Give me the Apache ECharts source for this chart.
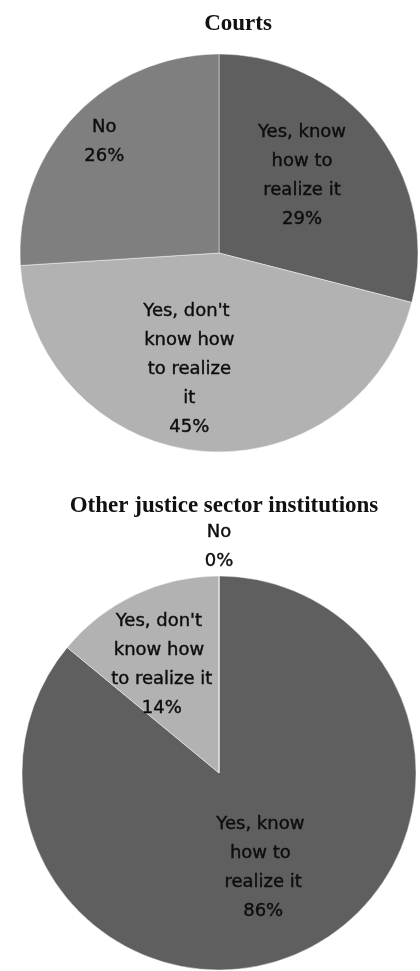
<!DOCTYPE html>
<html>
<head>
<meta charset="utf-8">
<style>
  html, body { margin: 0; padding: 0; background: #ffffff; }
  #chart { width: 420px; height: 971px; }
</style>
<script src="https://cdn.jsdelivr.net/npm/echarts@6/dist/echarts.min.js"></script>
</head>
<body>
<div id="chart"></div>
<script>
// ---- data ----
var categories = ["Yes, know how to realize it", "Yes, don't know how to realize it", "No"];
var courtsValues = [29, 45, 26];
var otherValues = [86, 14, 0];
var chartTitles = ["Courts", "Other justice sector institutions"];

// ---- styles ----
var sliceColors = ["#5f5f5f", "#b2b2b2", "#7f7f7f"];
var courtsLabelOffsets = [[2, -14], [-20, 14], [-40, -41]];
var otherLabelOffsets = [[1, 3], [-14, -16], [0, -125]];

function buildData(values, offsets) {
  return categories.map(function (name, i) {
    return {
      name: name,
      value: values[i],
      itemStyle: { color: sliceColors[i] },
      label: { offset: offsets[i] }
    };
  });
}

function labelFmt(p) {
  return p.name + '\n' + Math.round(p.percent) + '%';
}

function pieSeries(center, radius, data, wrapWidth) {
  return {
    type: 'pie',
    center: center,
    radius: [0, radius],
    startAngle: 90,
    clockwise: true,
    silent: true,
    animation: false,
    avoidLabelOverlap: false,
    itemStyle: { borderColor: 'rgba(255,255,255,0.45)', borderWidth: 1 },
    label: {
      show: true,
      position: 'inside',
      formatter: labelFmt,
      fontFamily: 'DejaVu Sans',
      fontSize: 18,
      lineHeight: 29,
      color: '#0d0d0d',
      textBorderColor: '#0d0d0d',
      textBorderWidth: 0.4,
      width: wrapWidth,
      overflow: 'break',
      align: 'center'
    },
    labelLine: { show: false },
    emphasis: { disabled: true },
    data: data
  };
}

var chart = echarts.init(document.getElementById('chart'), null, { renderer: 'canvas' });
chart.setOption({
  backgroundColor: '#ffffff',
  animation: false,
  title: [
    {
      text: chartTitles[0],
      left: 233, top: 6, textAlign: 'center',
      textStyle: { fontFamily: 'Liberation Serif', fontWeight: 'bold', fontSize: 23, lineHeight: 26, color: '#111' }
    },
    {
      text: chartTitles[1],
      left: 219, top: 488, textAlign: 'center',
      textStyle: { fontFamily: 'Liberation Serif', fontWeight: 'bold', fontSize: 23, lineHeight: 26, color: '#111' }
    }
  ],
  series: [
    pieSeries([219, 253], 199, buildData(courtsValues, courtsLabelOffsets), 96),
    pieSeries([219, 773], 197, buildData(otherValues, otherLabelOffsets), 106)
  ]
});
</script>
</body>
</html>
